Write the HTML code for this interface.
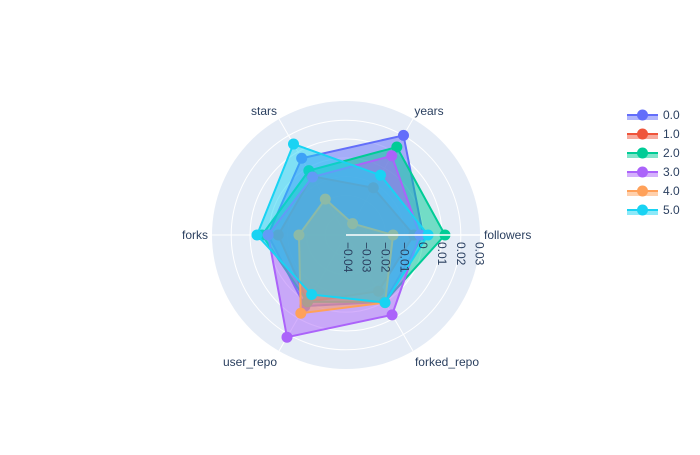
<!DOCTYPE html>
<html><head><meta charset="utf-8"><style>
body{margin:0;background:#fff}
svg text{font-family:"Liberation Sans",Arial,sans-serif;fill:#2a3f5f}
</style></head><body>
<svg id="chart" width="700" height="450" viewBox="0 0 700 450"></svg>
<script>
const categories=["followers","years","stars","forks","user_repo","forked_repo"];
const seriesNames=["0.0","1.0","2.0","3.0","4.0","5.0"];
const s0=[0.0,0.0201,0.0061,0.0004,0.0026,0.0];
const s1=[-0.005,-0.012,-0.005,-0.005,0.0,-0.0065];
const s2=[0.0116,0.013,-0.0015,0.0036,0.0,0.0];
const s3=[-0.0017,0.0076,-0.0054,0.0004,0.0217,0.008];
const s4=[-0.016,-0.034,-0.019,-0.016,0.007,0.0005];
const s5=[0.0026,-0.0043,0.0148,0.0063,-0.0045,0.0005];
const radialTicks=[-0.04,-0.03,-0.02,-0.01,0,0.01,0.02,0.03];
const tickLabels=["−0.04","−0.03","−0.02","−0.01","0","0.01","0.02","0.03"];
const seriesValues=[s0,s1,s2,s3,s4,s5];
const colors=["#636efa","#EF553B","#00cc96","#ab63fa","#FFA15A","#19d3f3"];
const NS="http://www.w3.org/2000/svg";
const svg=document.getElementById('chart');
const cx=346,cy=235,R=134,rmin=-0.041,rmax=0.0302;
function rad(v){return (v-rmin)/(rmax-rmin)*R;}
function ang(i){return i*Math.PI*2/categories.length;}
function pt(i,v){const r=rad(v),a=ang(i);return [cx+r*Math.cos(a),cy-r*Math.sin(a)];}
function mk(t,a){const e=document.createElementNS(NS,t);for(const k in a)e.setAttribute(k,a[k]);return e;}
const bg=mk('circle',{cx:cx,cy:cy,r:R,fill:'#E5ECF6'});


svg.appendChild(bg);
radialTicks.forEach(t=>{const r=rad(t);if(r>2&&r<R-1){const c=mk('circle',{cx:cx,cy:cy,r:r,fill:'none',stroke:'#fff','stroke-width':1});


svg.appendChild(c);}});
const labelPos=[[484,239,'start'],[429,115,'middle'],[264,115,'middle'],[208,239,'end'],[250,366,'middle'],[447,366,'middle']];
categories.forEach((c,i)=>{const a=ang(i);const l=mk('line',{x1:cx,y1:cy,x2:cx+R*Math.cos(a),y2:cy-R*Math.sin(a),stroke:'#fff','stroke-width':1});


svg.appendChild(l);
const lp=labelPos[i];
const tx=mk('text',{x:lp[0],y:lp[1],'font-size':12,'text-anchor':lp[2]});
tx.textContent=c;


svg.appendChild(tx);});
seriesValues.forEach((vals,s)=>{const pts=vals.map((v,i)=>pt(i,v));
const p=mk('polygon',{points:pts.map(q=>q.join(',')).join(' '),fill:colors[s],'fill-opacity':0.5,stroke:colors[s],'stroke-width':2});


svg.appendChild(p);
pts.forEach(q=>{const m=mk('circle',{cx:q[0],cy:q[1],r:5.5,fill:colors[s]});


svg.appendChild(m);});});
const ax=mk('line',{x1:cx,y1:cy,x2:cx+R,y2:cy,stroke:'#fff','stroke-width':1.5});


svg.appendChild(ax);
radialTicks.forEach((t,k)=>{const x=cx+rad(t);
const tx=mk('text',{x:0,y:0,'font-size':12,transform:'translate('+(x-4)+','+(cy+7)+') rotate(90)'});
tx.textContent=tickLabels[k];


svg.appendChild(tx);});
seriesNames.forEach((n,s)=>{const y=115+s*19;
const g=mk('g',{});


g.appendChild(mk('rect',{x:627,y:y,width:31,height:5,fill:colors[s],'fill-opacity':0.5}));
g.appendChild(mk('line',{x1:627,y1:y,x2:658,y2:y,stroke:colors[s],'stroke-width':2}));
g.appendChild(mk('circle',{cx:642.5,cy:y,r:5.5,fill:colors[s]}));
const tx=mk('text',{x:663,y:y+4,'font-size':12});tx.textContent=n;g.appendChild(tx);
svg.appendChild(g);});
</script>
</body></html>
